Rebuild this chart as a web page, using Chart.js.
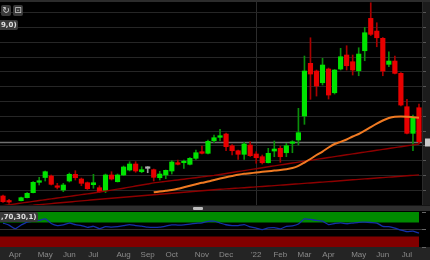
<!DOCTYPE html>
<html>
<head>
<meta charset="utf-8">
<script src="https://cdn.jsdelivr.net/npm/chart.js@4.4.1/dist/chart.umd.min.js"></script>
<style>
  html, body { margin:0; padding:0; background:#000; width:430px; height:260px; overflow:hidden;
    font-family:"Liberation Sans", Arial, sans-serif; }
  .abs { position:absolute; }
  #topbar { left:0; top:0; width:430px; height:2px; background:#2c2c2c; }
  #axisStrip { left:422px; top:2px; width:8px; height:203px; background:#1c1c1c; }
  #scroll { left:0; top:205px; width:430px; height:6px; background:#2e2e2e; border-top:1px solid #151515; box-sizing:border-box; }
  #thumb { left:193px; top:207px; width:10px; height:3px; background:#bdbdbd; border-radius:1px; }
  #xband { left:0; top:247px; width:430px; height:13px; background:#242424; }
  canvas { position:absolute; left:0; }
  .btn { width:10px; height:11px; background:#3a3a3a; border-radius:2px; color:#d0d0d0;
    font:9px "DejaVu Sans", sans-serif; line-height:11px; text-align:center; }
  .tag { background:#3a3a3a; color:#e0e0e0; font:bold 7px "DejaVu Sans", sans-serif; line-height:10px;
    padding:0 1px; border-radius:0 2px 2px 0; white-space:nowrap; }
</style>
</head>
<body>
<div id="topbar" class="abs"></div>
<div id="axisStrip" class="abs"></div>
<div id="scroll" class="abs"></div>
<div id="thumb" class="abs"></div>
<div id="xband" class="abs"></div>
<canvas id="main" width="430" height="203" style="top:2px"></canvas>
<canvas id="lower" width="430" height="49" style="top:211px"></canvas>
<div class="abs btn" style="left:1px;top:5px">↻</div>
<div class="abs btn" style="left:13px;top:5px">⊡</div>
<div class="abs tag" style="left:0;top:20px">9,0)</div>
<div class="abs tag" style="left:0;top:212px">,70,30,1)</div>
<script>
// weekly candles (week ending Friday)
var weeks = [
  '2021-03-19','2021-03-26','2021-04-02','2021-04-09','2021-04-16','2021-04-23','2021-04-30',
  '2021-05-07','2021-05-14','2021-05-21','2021-05-28','2021-06-04','2021-06-11','2021-06-18','2021-06-25',
  '2021-07-02','2021-07-09','2021-07-16','2021-07-23','2021-07-30','2021-08-06','2021-08-13','2021-08-20','2021-08-27',
  '2021-09-03','2021-09-10','2021-09-17','2021-09-24','2021-10-01','2021-10-08','2021-10-15','2021-10-22','2021-10-29',
  '2021-11-05','2021-11-12','2021-11-19','2021-11-26','2021-12-03','2021-12-10','2021-12-17','2021-12-24','2021-12-31',
  '2022-01-07','2022-01-14','2022-01-21','2022-01-28','2022-02-04','2022-02-11','2022-02-18','2022-02-25',
  '2022-03-04','2022-03-11','2022-03-18','2022-03-25','2022-04-01','2022-04-08','2022-04-15','2022-04-22','2022-04-29',
  '2022-05-06','2022-05-13','2022-05-20','2022-05-27','2022-06-03','2022-06-10','2022-06-17','2022-06-24',
  '2022-07-01','2022-07-08','2022-07-15'
];

var monthNames = ["'22",'Feb','Mar','Apr','May','Jun','Jul','Aug','Sep','Oct','Nov','Dec'];

var opens = [18.04,16.35,14.6,16.45,17.47,19.16,22.67,24.29,24.80,21.42,
  20.07,23.11,25.37,23.78,22.53,21.86,20.84,19.90,25.14,22.87,
  25.14,26.82,28.85,26.25,27.40,26.93,24.22,25.14,26.49,29.29,
  29.29,28.75,30.78,33.01,32.47,36.72,37.87,38.99,35.03,33.34,
  32.13,35.27,32.23,31.32,29.29,33.24,34.16,32.67,35.84,36.96,
  45.07,62.87,60.27,56.32,60.95,52.94,60.95,65.68,63.41,60.37,
  67.13,78.07,73.78,71.32,62.53,63.65,59.49,48.21,39.22,47.87];
var highs = [18.38,16.93,14.9,17.70,19.22,22.94,24.36,26.49,25.14,22.33,
  22.33,25.81,26.59,24.12,22.77,25.37,21.52,25.47,26.25,25.47,
  28.18,29.63,29.63,27.94,27.94,27.16,26.39,26.82,29.97,30.20,
  30.20,31.05,33.58,34.93,36.96,38.65,40.57,39.32,35.44,33.58,
  36.18,36.39,33.01,31.89,34.16,36.62,34.93,35.84,36.72,47.67,
  65.34,71.52,60.61,64.56,61.28,60.78,67.94,68.82,65.68,68.14,
  75.03,83.34,76.59,71.59,66.79,65.34,59.76,50.71,45.41,49.12];
var lows = [15.84,15.57,13.6,16.35,17.36,19.05,21.76,23.11,21.76,20.41,
  19.49,22.77,23.45,21.52,20.24,20.64,19.16,19.16,23.45,22.77,
  24.97,26.49,26.05,25.91,25.91,23.11,23.45,23.89,25.47,28.51,
  27.40,28.51,30.44,32.23,32.23,36.05,36.72,33.34,31.89,30.44,
  30.44,31.39,29.09,28.85,29.19,31.32,29.43,31.32,32.67,35.27,
  42.26,50.71,51.82,55.54,50.81,52.50,60.61,60.61,58.92,58.68,
  63.75,72.26,68.48,58.68,61.72,59.26,48.45,38.99,33.34,35.61];
var closes = [16.11,16.01,14.0,17.47,18.95,22.67,23.21,26.25,21.99,20.98,
  21.76,25.37,24.22,22.33,20.51,22.53,19.49,25.14,23.78,25.14,
  27.84,28.85,26.49,26.93,27.40,24.36,25.47,26.72,29.53,28.75,
  29.63,30.78,32.67,32.47,36.52,37.74,38.41,34.70,33.34,32.13,
  35.61,31.66,30.98,29.29,32.47,33.92,31.32,35.03,36.18,39.43,
  60.27,59.26,55.20,62.30,52.16,60.61,65.10,62.06,60.61,66.01,
  73.21,72.67,71.52,60.27,63.65,59.49,48.78,39.22,44.29,36.39];

// orange moving average
var maOrange = [null,null,null,null,null,null,null,null,null,null,
  null,null,null,null,null,null,null,null,null,null,
  null,null,null,null,null,19.29,19.56,19.80,20.07,20.47,
  20.98,21.49,21.99,22.50,22.94,23.45,23.95,24.39,24.80,25.20,
  25.54,25.74,25.98,26.22,26.42,26.62,26.82,27.09,27.50,28.24,
  29.36,30.54,31.89,33.07,34.43,35.61,36.35,37.13,38.14,38.99,
  40.10,41.35,42.53,43.55,44.39,44.83,44.90,44.83,44.66,44.49];
// dark red long averages
var maRedFast = [14.80,15.08,15.36,15.65,15.93,16.22,16.50,16.79,17.07,17.36,
  17.64,17.92,18.20,18.49,18.77,19.05,19.38,19.70,20.03,20.35,
  20.68,21.04,21.40,21.75,22.11,22.47,22.72,22.97,23.22,23.47,
  23.72,23.98,24.23,24.49,24.74,25.00,25.32,25.65,25.97,26.30,
  26.62,26.94,27.27,27.59,27.92,28.24,28.55,28.86,29.18,29.49,
  29.80,30.11,30.42,30.73,31.04,31.35,31.65,31.96,32.26,32.57,
  32.87,33.17,33.48,33.78,34.09,34.39,34.70,35.00,35.31,35.61];
var maRedSlow = [13.99,14.18,14.37,14.55,14.74,14.93,15.11,15.29,15.48,15.66,
  15.84,16.02,16.21,16.39,16.58,16.76,16.94,17.11,17.29,17.46,
  17.64,17.81,17.98,18.14,18.31,18.48,18.65,18.82,18.98,19.15,
  19.32,19.49,19.66,19.83,20.00,20.17,20.30,20.44,20.57,20.71,
  20.84,20.98,21.12,21.27,21.41,21.55,21.70,21.85,22.00,22.15,
  22.30,22.45,22.60,22.74,22.89,23.04,23.20,23.35,23.51,23.66,
  23.82,23.97,24.12,24.26,24.41,24.56,24.71,24.87,25.02,25.17];

// oscillator (lower panel)
var rsi = [68.5,62.7,52.5,62.7,71.4,73.8,75.8,80.2,67.1,61.2,
  63.3,68.5,64.1,61.2,56.3,59.2,52.5,58.3,56.9,58.3,
  61.2,64.1,61.2,59.8,56.9,56.3,56.9,59.8,63.3,62.7,
  63.3,65.6,67.6,69.1,73.5,73.8,68.5,63.6,61.2,61.2,
  64.1,57.4,53.9,49.6,54.5,55.4,51.6,59.2,60.3,65.6,
  80.2,78.7,75.8,73.8,64.1,67.1,69.1,66.5,68.5,70.6,
  70.8,70.0,68.5,58.9,58.3,53.9,48.1,43.7,45.2,39.9];
var upperLevel = 70, lowerLevel = 30;

function monthOf(i) { return parseInt(weeks[i].slice(5, 7), 10); }
function monthLabel(i) {
  if (i === 0 || monthOf(i) === monthOf(i - 1)) return null;
  return monthNames[monthOf(i) - 1];
}
function yearStart(i) { return i > 0 && monthOf(i) === 1 && monthOf(i - 1) === 12; }

var bodyColors = opens.map(function (o, i) {
  if (closes[i] > o) return '#00e400';
  if (closes[i] < o) return '#e80000';
  return '#b0b0b0';
});
var wickColors = opens.map(function (o, i) {
  if (closes[i] > o) return '#0a8f0a';
  if (closes[i] < o) return '#a80000';
  return '#9a9a9a';
});

var priceLine = {
  id: 'priceLine',
  beforeDatasetsDraw: function (chart) {
    var c = chart.ctx, a = chart.chartArea, y = chart.scales.y;
    var py = Math.round(y.getPixelForValue(closes[closes.length - 1])) + 0.5;
    c.save();
    c.strokeStyle = '#707070';
    c.lineWidth = 1.5;
    c.beginPath(); c.moveTo(a.left, py); c.lineTo(a.right, py); c.stroke();
    c.fillStyle = '#c8c8c8';
    c.fillRect(a.right + 3, py - 4, 8, 8);
    c.restore();
  }
};

new Chart(document.getElementById('main'), {
  type: 'bar',
  data: {
    labels: weeks,
    datasets: [
      { type: 'line', data: maOrange, borderColor: '#f07a22', borderWidth: 2, pointRadius: 0, tension: 0.25, order: 0 },
      { type: 'line', data: maRedFast, borderColor: '#8e0000', borderWidth: 1.4, pointRadius: 0, tension: 0.2, order: 0 },
      { type: 'line', data: maRedSlow, borderColor: '#8e0000', borderWidth: 1.4, pointRadius: 0, tension: 0.2, order: 0 },
      { data: opens.map(function (o, i) { return [o, closes[i]]; }), backgroundColor: bodyColors,
        barThickness: 4.5, minBarLength: 1.5, grouped: false, order: 1 },
      { data: lows.map(function (l, i) { return [l, highs[i]]; }), backgroundColor: wickColors,
        barThickness: 1, grouped: false, order: 2 }
    ]
  },
  options: {
    responsive: false, animation: false,
    layout: { padding: 0 },
    plugins: { legend: { display: false }, tooltip: { enabled: false } },
    scales: {
      x: {
        offset: true,
        ticks: { display: false, autoSkip: false },
        grid: { drawTicks: false, offset: false,
          color: function (ctx) { return yearStart(ctx.index) ? '#2c2c2c' : 'transparent'; } },
        border: { display: false },
        afterFit: function (s) { s.height = 0; }
      },
      y: {
        position: 'right', min: 15, max: 83.6,
        ticks: { display: false, stepSize: 5, includeBounds: false },
        grid: { color: '#262626', tickLength: 4, tickColor: '#555' },
        border: { color: '#2a2a2a' },
        afterFit: function (s) { s.width = 8; }
      }
    }
  },
  plugins: [priceLine]
});

var bands = {
  id: 'bands',
  beforeDraw: function (chart) {
    var c = chart.ctx, a = chart.chartArea, x = chart.scales.x, y = chart.scales.y;
    var xr = x.getPixelForValue(weeks.length - 1);
    c.save();
    c.fillStyle = '#008a00';
    c.fillRect(a.left, y.getPixelForValue(100), xr - a.left, y.getPixelForValue(upperLevel) - y.getPixelForValue(100));
    c.fillStyle = '#820000';
    c.fillRect(a.left, y.getPixelForValue(lowerLevel), xr - a.left, y.getPixelForValue(0) - y.getPixelForValue(lowerLevel));
    c.restore();
  }
};

new Chart(document.getElementById('lower'), {
  type: 'line',
  data: {
    labels: weeks,
    datasets: [
      { data: rsi, borderColor: '#1530a8', borderWidth: 1.3, pointRadius: 0, tension: 0.2 }
    ]
  },
  options: {
    responsive: false, animation: false,
    layout: { padding: { top: 1 } },
    plugins: { legend: { display: false }, tooltip: { enabled: false } },
    scales: {
      x: {
        offset: true,
        ticks: { autoSkip: false, maxRotation: 0, color: '#8a8a8a', padding: 3,
          font: { family: 'Liberation Sans', size: 8 },
          callback: function (v, i) { return monthLabel(i); } },
        grid: { drawTicks: false, offset: false,
          color: function (ctx) { return yearStart(ctx.index) ? '#2c2c2c' : 'transparent'; } },
        border: { display: false },
        afterFit: function (s) { s.height = 13; }
      },
      y: {
        position: 'right', min: 0, max: 100,
        ticks: { display: false, stepSize: 50 },
        grid: { tickLength: 4, tickColor: '#666',
          color: function (ctx) { return ctx.tick && ctx.tick.value === 50 ? '#333' : 'transparent'; } },
        border: { display: false },
        afterFit: function (s) { s.width = 8; }
      }
    }
  },
  plugins: [bands]
});
</script>
</body>
</html>
